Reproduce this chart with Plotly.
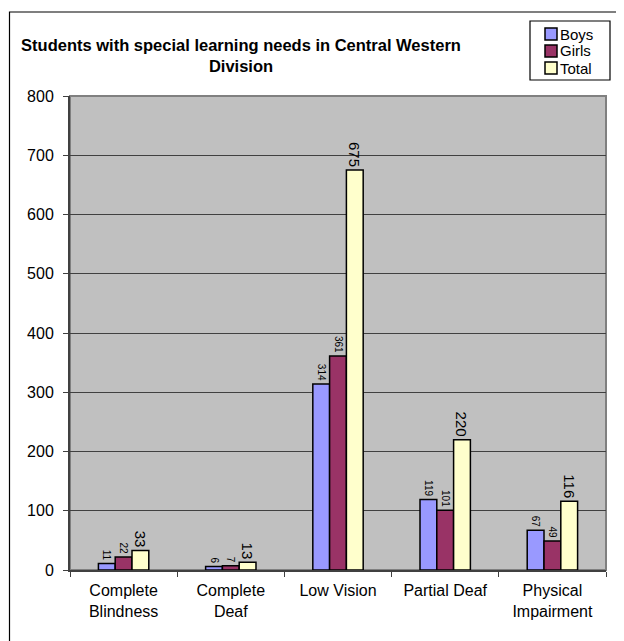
import plotly.graph_objects as go

categories = ["Complete<br>Blindness", "Complete<br>Deaf", "Low Vision", "Partial Deaf", "Physical<br>Impairment"]
series_names = ["Boys", "Girls", "Total"]
boys = [11, 6, 314, 119, 67]
girls = [22, 7, 361, 101, 49]
total = [33, 13, 675, 220, 116]
colors = ["#9999FF", "#993366", "#FFFFCC"]

W, H = 624, 641
L, R, T, B = 62, 26, 88, 79
pw, ph = W - L - R, H - T - B
font = "Arial, Liberation Sans, sans-serif"


# pixel -> paper coords helpers
def px(x):
    return (x - L) / pw


def py(y):
    return 1 - (y - T) / ph


fig = go.Figure()

# three series; small labels for boys/girls, bigger for total
for name, vals, color, fs in zip(series_names, [boys, girls, total], colors, [10, 10, 15]):
    fig.add_trace(go.Bar(
        x=categories, y=vals, name=name,
        marker=dict(color=color, line=dict(color="black", width=1.5)),
        text=[str(v) for v in vals], textposition="outside", textangle=90,
        outsidetextfont=dict(size=fs, color="black", family=font),
        constraintext="none", cliponaxis=False,
    ))

fig.update_layout(
    width=W, height=H,
    margin=dict(l=L, r=R, t=T, b=B, autoexpand=False),
    paper_bgcolor="white", plot_bgcolor="#C0C0C0",
    barmode="group", bargap=0.53, bargroupgap=0,
    font=dict(family=font, color="black"),
    title=dict(text="<b>Students with special learning needs in Central Western<br>Division</b>",
               x=233 / W, xanchor="center", xref="container",
               y=1 - 43 / H, yanchor="middle", yref="container",
               font=dict(size=16.5)),
    showlegend=False,
)

fig.update_yaxes(range=[0, 800], dtick=100, showgrid=True, gridcolor="#404040", gridwidth=1,
                 showline=True, linecolor="#404040", linewidth=2, ticks="outside", ticklen=5,
                 tickcolor="#404040", tickfont=dict(size=16), zeroline=False,
                 ticklabelstandoff=6)
fig.update_xaxes(showline=True, linecolor="#404040", linewidth=2, ticks="outside", ticklen=5,
                 tickcolor="#404040", tickson="boundaries", tickfont=dict(size=16),
                 ticklabelstandoff=5)

# gray frame around the plot area and black border around the chart
fig.add_shape(type="rect", xref="paper", yref="paper", x0=0, x1=1, y0=0, y1=1,
              line=dict(color="#808080", width=2), layer="below")
fig.add_shape(type="rect", xref="paper", yref="paper",
              x0=px(1.5), x1=px(611), y0=py(660), y1=py(4),
              line=dict(color="black", width=1.2))

# legend box like the excel one
fig.add_shape(type="rect", xref="paper", yref="paper",
              x0=px(522), x1=px(602), y0=py(72), y1=py(13),
              line=dict(color="black", width=1.2), fillcolor="white")
for i, (name, color) in enumerate(zip(series_names, colors)):
    yc = 26 + i * 17
    fig.add_shape(type="rect", xref="paper", yref="paper",
                  x0=px(537), x1=px(549), y0=py(yc + 6), y1=py(yc - 6),
                  line=dict(color="black", width=1.5), fillcolor=color)
    fig.add_annotation(text=name, xref="paper", yref="paper", x=px(551), y=py(yc),
                       xanchor="left", yanchor="middle", showarrow=False,
                       font=dict(size=15), borderpad=0)

fig.write_html("out.html")
